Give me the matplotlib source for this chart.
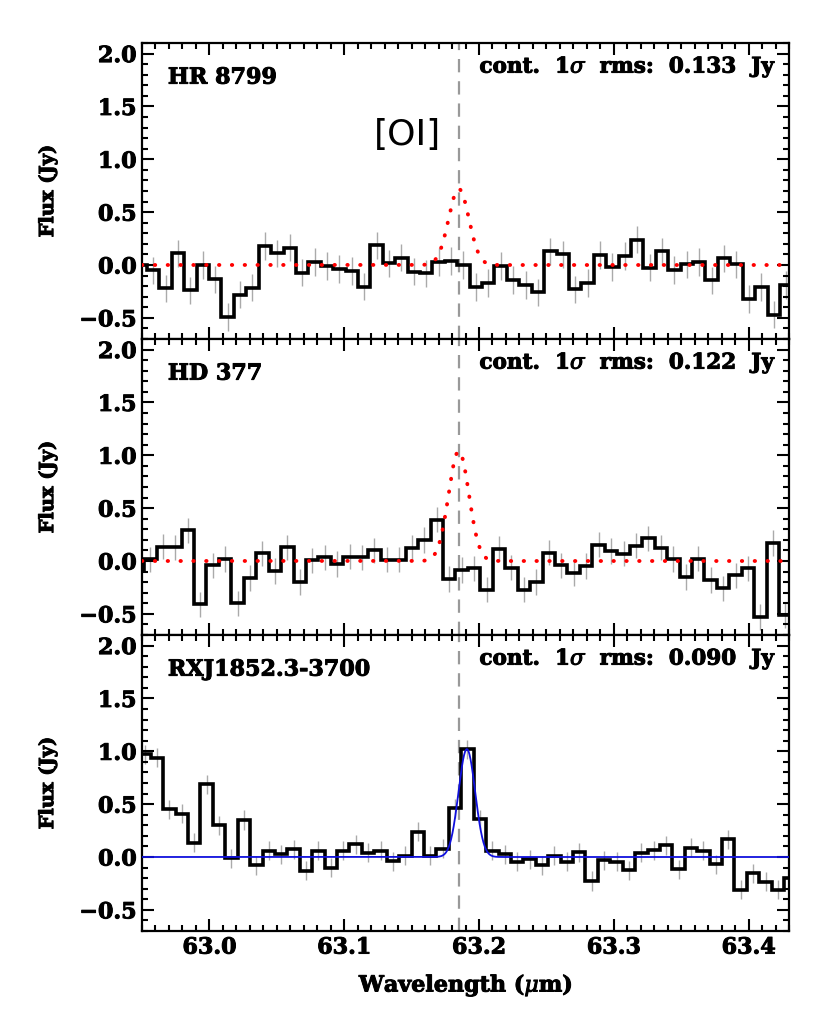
import numpy as np
import matplotlib
matplotlib.use('Agg')
import matplotlib.pyplot as plt
import matplotlib.patheffects as pe
from matplotlib.ticker import MultipleLocator, FixedLocator

plt.rcParams['mathtext.fontset'] = 'dejavuserif'

# ---------------- data ----------------
names = ['HR 8799', 'HD 377', 'RXJ1852.3-3700']
rms_labels = ['0.133', '0.122', '0.090']
err = [0.13, 0.12, 0.09]

# spectral grid (first bin edge and bin width per target)
first_edge = [62.9537, 62.9516, 62.9565]
bin_width = [0.009207, 0.009237, 0.009214]

flux_hr8799 = [0.0, -0.05, -0.22, 0.11, -0.24, 0.0, -0.135, -0.49, -0.28, -0.215,
               0.18, 0.11, 0.164, -0.073, 0.03, -0.01, -0.04, -0.057, -0.205, 0.186,
               0.016, 0.07, -0.063, -0.079, 0.03, 0.038, 0.0, -0.21, -0.17, -0.01,
               -0.14, -0.19, -0.26, 0.13, 0.10, -0.23, -0.17, 0.095, -0.02, 0.085,
               0.24, -0.025, 0.13, -0.047, 0.006, 0.03, -0.145, 0.063, 0.006, -0.32,
               -0.21, -0.47, -0.19]
flux_hd377 = [-0.085, 0.016, 0.136, 0.13, 0.29, -0.41, -0.04, 0.02, -0.40, -0.16,
              0.073, -0.095, 0.13, -0.20, 0.006, 0.035, -0.03, 0.04, 0.035, 0.10,
              0.013, 0.013, 0.126, 0.20, 0.39, -0.17, -0.085, -0.07, -0.27, 0.117,
              -0.063, -0.27, -0.20, 0.08, -0.04, -0.117, -0.047, 0.155, 0.095, 0.07,
              0.145, 0.215, 0.126, 0.02, -0.15, 0.022, -0.18, -0.26, -0.135, -0.07,
              -0.53, 0.17, -0.51]
flux_rxj = [0.97, 0.94, 0.45, 0.41, 0.136, 0.69, 0.30, -0.01, 0.35, -0.08,
            0.057, 0.025, 0.073, -0.13, 0.057, -0.10, 0.057, 0.12, 0.04, 0.057,
            -0.038, 0.01, 0.24, 0.01, 0.08, 0.46, 1.02, 0.356, 0.057, 0.025,
            -0.047, -0.022, -0.08, 0.01, -0.047, 0.047, -0.227, -0.03, -0.044, -0.126,
            0.04, 0.066, 0.11, -0.117, 0.088, 0.057, -0.07, 0.167, -0.31, -0.155,
            -0.233, -0.31, -0.196]
fluxes = [flux_hr8799, flux_hd377, flux_rxj]

oi_wave = 63.185
ul_peak = [0.72, 1.04]          # red dotted upper-limit Gaussians
ul_center = 63.185
ul_fwhm = 0.0178
fit_peak = 1.02                 # blue fitted Gaussian
fit_center = 63.191
fit_fwhm = 0.0145

xlim = (62.95, 63.43)
ylim = (-0.7, 2.1)
xticks = [63.0, 63.1, 63.2, 63.3, 63.4]
xticklabels = ['63.0', '63.1', '63.2', '63.3', '63.4']
yticks = [-0.5, 0.0, 0.5, 1.0, 1.5, 2.0]
yticklabels = ['\u22120.5', '0.0', '0.5', '1.0', '1.5', '2.0']

# ---------------- figure ----------------
W, H = 830, 1022
fig = plt.figure(figsize=(W / 100, H / 100), dpi=100)

left = 142 / W
width = 647 / W
ph = 296 / H
bottoms = [1 - 339 / H, 1 - 635 / H, 1 - 931 / H]

FONT = dict(family='DejaVu Serif', weight='bold')
FS = 16
HEAVY = [pe.withStroke(linewidth=0.7, foreground='black')]

xfine = np.linspace(xlim[0], xlim[1], 2000)


def gauss(x, a, c, fwhm):
    s = fwhm / 2.3548
    return a * np.exp(-0.5 * ((x - c) / s) ** 2)


axes = []
for i in range(3):
    ax = fig.add_axes([left, bottoms[i], width, ph])
    axes.append(ax)
    f = np.array(fluxes[i])
    n = len(f)
    edges = first_edge[i] + bin_width[i] * np.arange(-1, n)
    centers = 0.5 * (edges[:-1] + edges[1:])

    ax.vlines(centers, f - err[i], f + err[i], color='#aaaaaa', lw=1.0, zorder=1)
    ax.stairs(f, edges, baseline=None, color='black', lw=2.6, zorder=3)

    if i < 2:
        ax.plot(xfine, gauss(xfine, ul_peak[i], ul_center, ul_fwhm), color='red',
                lw=2.8, linestyle=(0, (0.1, 3.2)), dash_capstyle='round', zorder=4)
    else:
        ax.plot(xfine, gauss(xfine, fit_peak, fit_center, fit_fwhm), color='#1010dd',
                lw=1.3, zorder=4)

    ax.axvline(oi_wave, color='#999999', lw=1.6, linestyle=(0, (6, 4)), zorder=0)

    ax.set_xlim(*xlim)
    ax.set_ylim(*ylim)
    ax.xaxis.set_major_locator(FixedLocator(xticks))
    ax.xaxis.set_minor_locator(MultipleLocator(0.01))
    ax.yaxis.set_major_locator(FixedLocator(yticks))
    ax.yaxis.set_minor_locator(MultipleLocator(0.1))
    ax.set_yticklabels(yticklabels, fontdict=dict(size=FS, **FONT))
    if i == 2:
        ax.set_xticklabels(xticklabels, fontdict=dict(size=FS, **FONT))
    else:
        ax.set_xticklabels([])
    for lab in ax.get_xticklabels() + ax.get_yticklabels():
        lab.set_path_effects(HEAVY)
    ax.tick_params(which='both', direction='in', top=True, right=True, width=1.5)
    ax.tick_params(which='major', length=8.5, pad=4)
    ax.tick_params(which='minor', length=4.3)
    for sp in ax.spines.values():
        sp.set_linewidth(1.6)

    ax.text(0.04, 0.883, names[i], transform=ax.transAxes, ha='left', va='center',
            fontsize=FS, path_effects=HEAVY, **FONT)
    ax.text(0.98, 0.918, 'cont.  1$\\sigma$  rms:  ' + rms_labels[i] + '  Jy',
            transform=ax.transAxes, ha='right', va='center', fontsize=15.5,
            path_effects=HEAVY, **FONT)

    fig.text(48 / W, bottoms[i] + ph / 2, 'Flux (Jy)', rotation=90, ha='center',
             va='center', fontsize=14, path_effects=HEAVY, **FONT)

axes[0].text(63.147, 1.23, '[OI]', ha='center', va='center', fontsize=26,
             family='DejaVu Sans', weight='normal')

fig.text(466 / W, 1 - 985 / H, 'Wavelength ($\\mu$m)', ha='center', va='center',
         fontsize=FS, path_effects=HEAVY, **FONT)

fig.savefig('out.png', dpi=100)
